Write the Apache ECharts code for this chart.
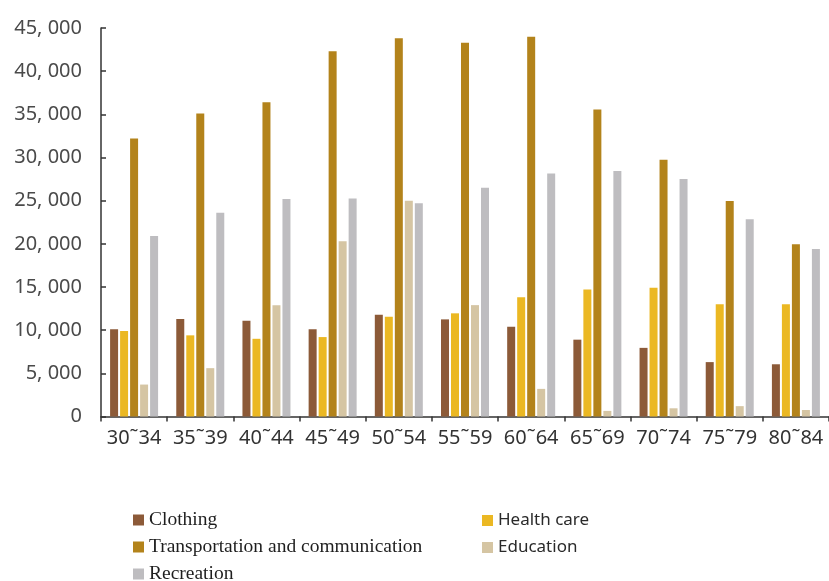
<!DOCTYPE html>
<html>
<head>
<meta charset="utf-8">
<script src="https://cdn.jsdelivr.net/npm/echarts@6/dist/echarts.min.js"></script>
<style>
  html, body { margin: 0; padding: 0; background: #ffffff; }
  #chart { width: 829px; height: 581px; }
</style>
</head>
<body>
<div id="chart"></div>
<script>
// Age groups along the horizontal axis
const ageGroups = ['30˜34', '35˜39', '40˜44', '45˜49', '50˜54', '55˜59', '60˜64', '65˜69', '70˜74', '75˜79', '80˜84'];

// Spending by category for each age group
const clothing       = [10100, 11300, 11100, 10100, 11800, 11250, 10400, 8900, 7950, 6300, 6050];
const healthCare     = [9900, 9400, 9000, 9200, 11550, 11950, 13800, 14700, 14900, 13000, 13000];
const transportation = [32200, 35100, 36400, 42300, 43800, 43300, 44000, 35550, 29750, 24950, 19950];
const education      = [3700, 5600, 12900, 20300, 25000, 12900, 3200, 650, 950, 1200, 750];
const recreation     = [20900, 23600, 25200, 25250, 24700, 26500, 28150, 28450, 27500, 22850, 19400];

// Value axis tick settings
const yMax = 45000;
const yStep = 5000;

const seriesDefs = [
  { name: 'Clothing', data: clothing, color: '#8c5a38' },
  { name: 'Health care', data: healthCare, color: '#ebb823' },
  { name: 'Transportation and communication', data: transportation, color: '#b3831b' },
  { name: 'Education', data: education, color: '#d5c5a3' },
  { name: 'Recreation', data: recreation, color: '#bebdc0' }
];

const serifNames = ['Clothing', 'Transportation and communication', 'Recreation'];

function legendAt(name, left, top) {
  const serif = serifNames.includes(name);
  return {
    data: [name],
    left: left,
    top: top,
    icon: 'rect',
    itemWidth: 11,
    itemHeight: 11,
    selectedMode: false,
    padding: 0,
    textStyle: serif
      ? { fontFamily: 'Liberation Serif', fontSize: 19.5, color: '#1e1e1e' }
      : { fontFamily: 'Noto Sans', fontSize: 17, color: '#2a2a2a' }
  };
}

const chart = echarts.init(document.getElementById('chart'), null, { renderer: 'canvas' });

chart.setOption({
  animation: false,
  backgroundColor: '#ffffff',
  grid: { left: 101, top: 28, width: 729, bottom: 164.5, containLabel: false },
  legend: [
    legendAt('Clothing', 133, 510),
    legendAt('Transportation and communication', 133, 537),
    legendAt('Recreation', 133, 564),
    legendAt('Health care', 482, 512),
    legendAt('Education', 482, 539)
  ],
  xAxis: {
    type: 'category',
    data: ageGroups,
    axisLine: { show: true, lineStyle: { color: '#333333', width: 1.5 } },
    axisTick: { show: true, length: 5, lineStyle: { color: '#333333', width: 1.5 } },
    axisLabel: {
      margin: 12,
      fontFamily: 'Noto Sans',
      fontSize: 20,
      color: '#333333',
      interval: 0
    },
    splitLine: { show: false }
  },
  yAxis: {
    type: 'value',
    min: 0,
    max: yMax,
    interval: yStep,
    axisLine: { show: true, lineStyle: { color: '#333333', width: 1.5 } },
    axisTick: { show: true, inside: true, length: 5, lineStyle: { color: '#333333', width: 1.5 } },
    axisLabel: {
      margin: 19,
      fontFamily: 'Noto Sans',
      fontSize: 20,
      color: '#4a4a4a',
      formatter: v => v.toLocaleString('en-US').replace(',', ', ')
    },
    splitLine: { show: false }
  },
  series: seriesDefs.map(s => ({
    name: s.name,
    type: 'bar',
    data: s.data,
    barWidth: 8,
    barGap: '25%',
    itemStyle: { color: s.color },
    emphasis: { disabled: true }
  }))
});
</script>
</body>
</html>
